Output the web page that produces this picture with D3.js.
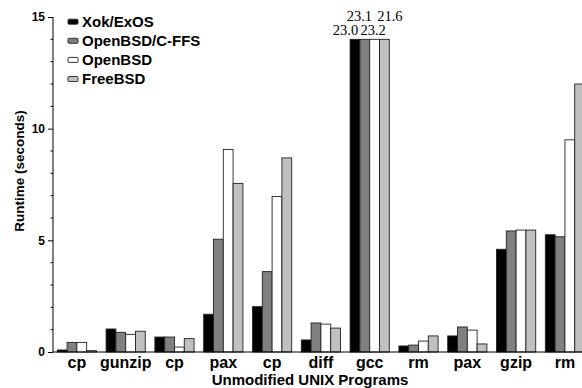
<!DOCTYPE html>
<html>
<head>
<meta charset="utf-8">
<script src="https://cdn.jsdelivr.net/npm/d3@7"></script>
<style>
  body { margin: 0; background: #fff; }
  svg { display: block; }
  text { font-family: "Liberation Sans", Arial, sans-serif; font-weight: bold; fill: #000; }
  .val { font-family: "Liberation Serif", "Times New Roman", serif; font-weight: normal; font-size: 14.5px; }
</style>
</head>
<body>
<div id="chart"></div>
<script>
// programs along the x axis (names repeat, so groups are keyed by index)
var programs = ["cp", "gunzip", "cp", "pax", "cp", "diff", "gcc", "rm", "pax", "gzip", "rm"];

// systems compared in each group
var systems = ["Xok/ExOS", "OpenBSD/C-FFS", "OpenBSD", "FreeBSD"];
var colors = ["#000000", "#808080", "#ffffff", "#c0c0c0"];

// runtime in seconds, one array per system
var xokExos   = [0.09, 1.03, 0.67, 1.69, 2.03, 0.54, 23.0, 0.27, 0.72, 4.60, 5.25];
var cffs      = [0.43, 0.88, 0.67, 5.05, 3.60, 1.30, 23.1, 0.31, 1.12, 5.42, 5.16];
var openbsd   = [0.43, 0.79, 0.22, 9.07, 6.96, 1.25, 23.2, 0.49, 0.98, 5.46, 9.50];
var freebsd   = [0.06, 0.93, 0.60, 7.55, 8.69, 1.07, 21.6, 0.72, 0.36, 5.46, 12.0];
var series = [xokExos, cffs, openbsd, freebsd];

var yTicks = [0, 5, 10, 15];
var yMax = 15;
var barCap = 14; // bars taller than this are cut and labelled

var width = 582, height = 388;
var plotLeft = 53, plotTop = 17, plotBottom = 352;

var svg = d3.select("#chart").append("svg")
    .attr("width", width)
    .attr("height", height);

var y = d3.scaleLinear().domain([0, yMax]).range([plotBottom, plotTop]);

var x = d3.scaleBand()
    .domain(d3.range(programs.length))
    .range([plotLeft - 0.5, 589.3])
    .paddingInner(0.197)
    .paddingOuter(0.098);

var xs = d3.scaleBand()
    .domain(d3.range(systems.length))
    .range([0, x.bandwidth()]);

// bars
var groups = svg.append("g").selectAll("g")
    .data(programs)
    .join("g")
    .attr("transform", function(d, i) { return "translate(" + x(i) + ",0)"; });

groups.selectAll("rect")
    .data(function(d, i) { return series.map(function(s, k) { return { k: k, v: s[i] }; }); })
    .join("rect")
    .attr("x", function(d) { return xs(d.k); })
    .attr("width", xs.bandwidth())
    .attr("y", function(d) { return y(Math.min(d.v, barCap)); })
    .attr("height", function(d) { return plotBottom - y(Math.min(d.v, barCap)); })
    .attr("fill", function(d) { return colors[d.k]; })
    .attr("stroke", "#222")
    .attr("stroke-width", 0.9);

// values for the bars that were cut
var labelShift = [-9.5, -5.5, -1.5, 5.5];
groups.each(function(p, i) {
  var g = d3.select(this);
  series.forEach(function(s, k) {
    if (s[i] > barCap) {
      g.append("text")
          .attr("class", "val")
          .attr("x", xs(k) + xs.bandwidth() / 2 + labelShift[k])
          .attr("y", y(barCap) - (k % 2 === 0 ? 4.5 : 18))
          .attr("text-anchor", "middle")
          .text(s[i].toFixed(1));
    }
  });
});

// y axis with unit minor ticks
var yAxis = svg.append("g")
    .attr("transform", "translate(" + plotLeft + ",0)")
    .call(d3.axisLeft(y).tickValues(yTicks).tickSize(5).tickPadding(3).tickFormat(d3.format("d")));
yAxis.select(".domain").attr("d", "M0," + y(yMax) + "V" + plotBottom);
yAxis.selectAll("text").style("font-size", "12px").style("font-family", "Liberation Sans, Arial, sans-serif").style("font-weight", "bold");
yAxis.selectAll("line").attr("stroke", "#000");

svg.append("g").selectAll("line")
    .data(d3.range(0, yMax + 1).filter(function(v) { return yTicks.indexOf(v) < 0; }))
    .join("line")
    .attr("x1", plotLeft - 2.5).attr("x2", plotLeft)
    .attr("y1", function(d) { return y(d); }).attr("y2", function(d) { return y(d); })
    .attr("stroke", "#000");

// baseline
svg.append("line")
    .attr("x1", plotLeft).attr("x2", width)
    .attr("y1", plotBottom).attr("y2", plotBottom)
    .attr("stroke", "#000");

// program names
svg.append("g").selectAll("text")
    .data(programs)
    .join("text")
    .attr("x", function(d, i) { return x(i) + x.bandwidth() / 2; })
    .attr("y", 368)
    .attr("text-anchor", "middle")
    .style("font-size", "16px")
    .text(function(d) { return d; });

svg.append("text")
    .attr("x", 310)
    .attr("y", 384.5)
    .attr("text-anchor", "middle")
    .style("font-size", "15px")
    .text("Unmodified UNIX Programs");

svg.append("text")
    .attr("transform", "translate(24,171) rotate(-90)")
    .attr("text-anchor", "middle")
    .style("font-size", "13.5px")
    .text("Runtime (seconds)");

// legend
var legend = svg.append("g").selectAll("g")
    .data(systems)
    .join("g")
    .attr("transform", function(d, i) { return "translate(68," + (21.7 + i * 19.1) + ")"; });

legend.append("rect")
    .attr("x", 0).attr("y", -2.5)
    .attr("width", 10).attr("height", 5)
    .attr("rx", 1)
    .attr("fill", function(d, i) { return colors[i]; })
    .attr("stroke", "#222")
    .attr("stroke-width", 0.9);

legend.append("text")
    .attr("x", 14)
    .attr("y", 5.4)
    .style("font-size", "15px")
    .text(function(d) { return d; });
</script>
</body>
</html>
